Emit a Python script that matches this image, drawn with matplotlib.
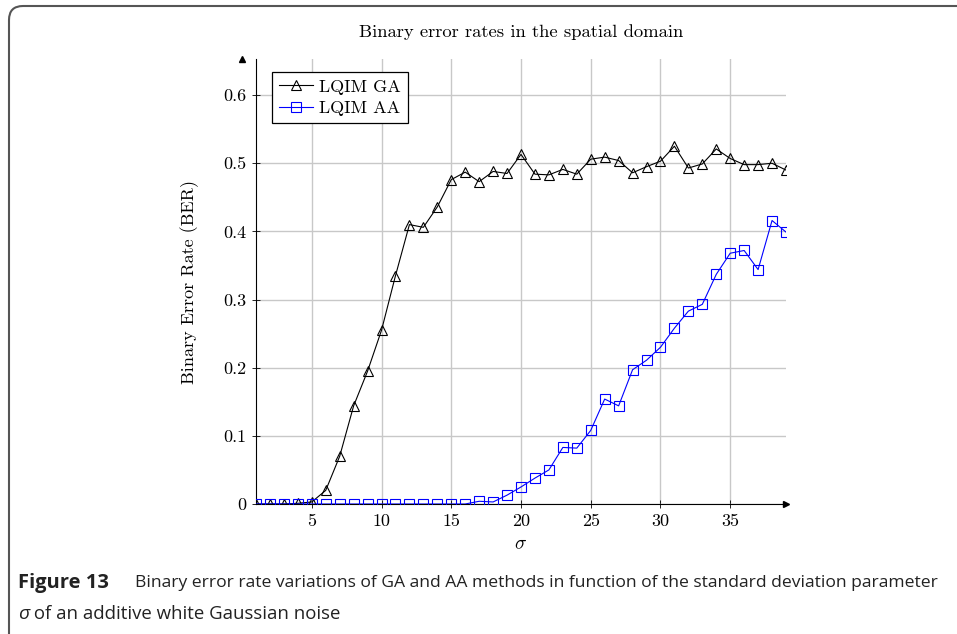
import matplotlib
matplotlib.use('Agg')
import matplotlib.pyplot as plt
from matplotlib.patches import FancyBboxPatch
from matplotlib.transforms import IdentityTransform

# sigma values (x axis)
sigma = list(range(1, 40))

# LQIM GA
ber_ga = [0.0, 0.0, 0.0, 0.001, 0.003, 0.02, 0.07, 0.144, 0.195, 0.255,
          0.335, 0.41, 0.406, 0.436, 0.476, 0.487, 0.473, 0.488, 0.485, 0.513,
          0.484, 0.483, 0.491, 0.484, 0.506, 0.509, 0.504, 0.486, 0.495, 0.503,
          0.525, 0.493, 0.499, 0.521, 0.507, 0.498, 0.498, 0.500, 0.490]

# LQIM AA
ber_aa = [0.0, 0.0, 0.0, 0.0, 0.0, 0.0, 0.0, 0.0, 0.0, 0.0,
          0.0, 0.0, 0.0, 0.0, 0.0, 0.0, 0.004, 0.003, 0.013, 0.025,
          0.038, 0.050, 0.083, 0.082, 0.108, 0.154, 0.144, 0.197, 0.211, 0.230,
          0.258, 0.283, 0.293, 0.337, 0.368, 0.372, 0.344, 0.416, 0.399]

xticks = [5, 10, 15, 20, 25, 30, 35]
yticks = [0, 0.1, 0.2, 0.3, 0.4, 0.5, 0.6]
ytick_labels = ['0', '0.1', '0.2', '0.3', '0.4', '0.5', '0.6']

plt.rcParams['font.family'] = ['cmr10', 'DejaVu Serif']
plt.rcParams['mathtext.fontset'] = 'cm'
plt.rcParams['axes.unicode_minus'] = False

fig = plt.figure(figsize=(9.57, 6.34), dpi=100)
W, H = 957, 634
ax = fig.add_axes([256 / W, 1 - 504 / H, 530 / W, 445 / H])

ax.plot(sigma, ber_ga, color='black', lw=0.8, marker='^', ms=6.5,
        mfc='none', mec='black', mew=0.8, label='LQIM GA', zorder=3)
ax.plot(sigma, ber_aa, color='#0000ff', lw=0.8, marker='s', ms=7,
        mfc='none', mec='#0000ff', mew=0.8, label='LQIM AA', zorder=3)

ax.set_xlim(1, 39)
ax.set_ylim(0, 0.653)
ax.set_xticks(xticks)
ax.set_xticklabels([str(t) for t in xticks])
ax.set_yticks(yticks)
ax.set_yticklabels(ytick_labels)
ax.tick_params(direction='inout', length=6, width=0.6, labelsize=13,
               colors='black', pad=4)
ax.grid(True, color='#c8c8c8', lw=1)
ax.set_axisbelow(True)

for s in ['top', 'right']:
    ax.spines[s].set_visible(False)
for s in ['left', 'bottom']:
    ax.spines[s].set_linewidth(0.8)
ax.plot(1, 0, '>k', ms=4, transform=ax.get_yaxis_transform(), clip_on=False)
ax.plot(0, 1, '^k', ms=4, transform=ax.get_xaxis_transform(), clip_on=False)

ax.set_title('Binary error rates in the spatial domain', fontsize=13.4,
             y=1.05, pad=0)
ax.set_ylabel('Binary Error Rate (BER)', fontsize=13)
ax.yaxis.set_label_coords(-0.107, 0.5)
ax.set_xlabel(r'$\sigma$', fontsize=14)
ax.xaxis.set_label_coords(0.5, -0.07)

leg = ax.legend(loc='upper left', bbox_to_anchor=(0.03, 0.971),
                borderaxespad=0, fancybox=False, edgecolor='black',
                framealpha=1, fontsize=13, handlelength=1.9,
                borderpad=0.4, labelspacing=0.3, handletextpad=0.3)
leg.get_frame().set_linewidth(0.9)

# frame round the figure
box = FancyBboxPatch((9, -20), 1100, 648, boxstyle='round,pad=0,rounding_size=14',
                     transform=IdentityTransform(), fill=False,
                     edgecolor='#555555', lw=1.5)
fig.add_artist(box)

# caption
fig.text(18 / W, 1 - 583 / H, 'Figure 13', fontsize=14.5, weight='bold',
         family='Open Sans', va='center', ha='left', color='#222222')
fig.text(135 / W, 1 - 583 / H, 'Binary error rate variations of GA and AA methods '
         'in function of the standard deviation parameter', fontsize=12.6,
         family='Open Sans', va='center', ha='left', color='#222222')
s1 = fig.text(18 / W, 1 - 614 / H, 'σ', fontsize=14, style='italic',
              family='Open Sans', va='center', ha='left', color='#222222')
ax.annotate(' of an additive white Gaussian noise', xy=(1, 0.5), xycoords=s1,
            va='center', ha='left', fontsize=13.4, family='Open Sans',
            color='#222222', annotation_clip=False)

fig.savefig('out.png', dpi=100)
